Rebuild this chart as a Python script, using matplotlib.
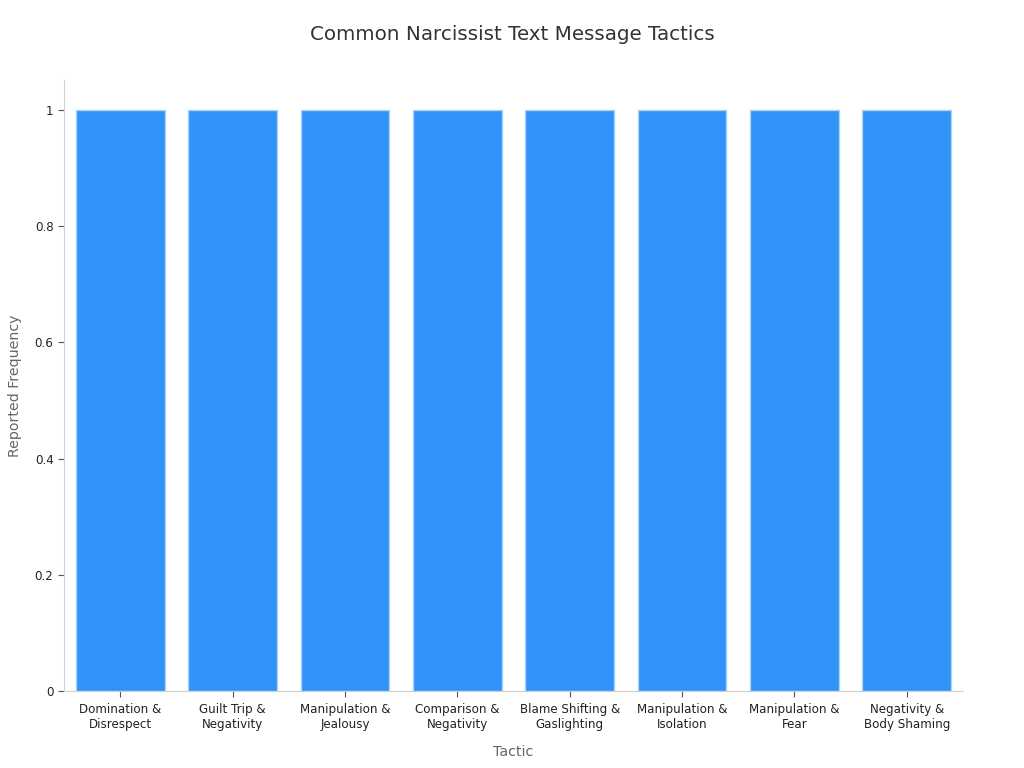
import matplotlib
matplotlib.use("Agg")
import matplotlib.pyplot as plt

# Tactic names and reported frequency
tactics = [
    "Domination &\nDisrespect",
    "Guilt Trip &\nNegativity",
    "Manipulation &\nJealousy",
    "Comparison &\nNegativity",
    "Blame Shifting &\nGaslighting",
    "Manipulation &\nIsolation",
    "Manipulation &\nFear",
    "Negativity &\nBody Shaming",
]
frequency = [1, 1, 1, 1, 1, 1, 1, 1]

fig = plt.figure(figsize=(10.24, 7.68), dpi=100)
ax = fig.add_axes([0.0625, 0.1003, 0.8779, 0.7956])

x = range(len(tactics))
ax.bar(x, frequency, width=0.79, color="#2f93f7", edgecolor="#a9d3fb", linewidth=1)

ax.set_xlim(-0.5, len(tactics) - 0.5)
ax.set_ylim(0, 1.052)
ax.set_xticks(list(x))
ax.set_xticklabels(tactics, fontsize=8.6, color="#222222")
ax.set_yticks([0, 0.2, 0.4, 0.6, 0.8, 1])
ax.set_yticklabels(["0", "0.2", "0.4", "0.6", "0.8", "1"], fontsize=8.6, color="#222222")

for side in ["top", "right"]:
    ax.spines[side].set_visible(False)
for side in ["left", "bottom"]:
    ax.spines[side].set_color("#d0d0d0")
ax.tick_params(axis="both", color="#555555", length=4)
ax.tick_params(axis="x", pad=4.5)

ax.set_xlabel("Tactic", fontsize=10.2, color="#666666", labelpad=10)
ax.set_ylabel("Reported Frequency", fontsize=10.2, color="#666666", labelpad=9)
fig.suptitle("Common Narcissist Text Message Tactics", fontsize=14.3, color="#333333", y=0.967)

fig.savefig("out.png", dpi=100)
